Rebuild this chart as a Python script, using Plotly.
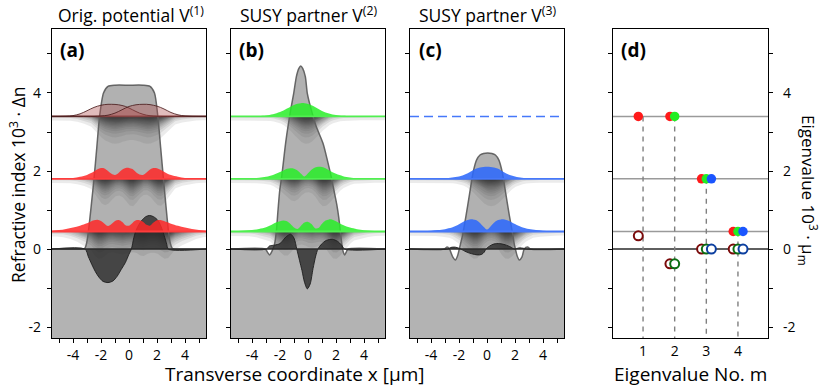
"""Optische SUSY-Partnerpotentiale: Potentiale, Moden und Eigenwerte."""

import numpy as np
import plotly.graph_objects as go

# ---------------------------------------------------------------- data ----
# common x grid of the mode profiles (µm)
X_MODE = [-5.5, -5.0, -4.5, -4.0, -3.5, -3.0, -2.75, -2.5, -2.25, -2.0, -1.75,
          -1.5, -1.25, -1.0, -0.75, -0.5, -0.25, 0.0, 0.25, 0.5, 0.75, 1.0,
          1.25, 1.5, 1.75, 2.0, 2.25, 2.5, 2.75, 3.0, 3.5, 4.0, 4.5, 5.0, 5.5]

LEVELS = [3.4, 1.8, 0.45]  # propagation eigenvalues 10^3 * Δn

# panel (a): mode intensities above their level
MODE_A1_LEFT = [0, 0, 0.005, 0.02, 0.065, 0.145, 0.19, 0.23, 0.262, 0.285, 0.302,
                0.31, 0.31, 0.307, 0.298, 0.28, 0.255, 0.215, 0.17, 0.125, 0.085,
                0.055, 0.032, 0.018, 0.01, 0.005, 0.002, 0, 0, 0, 0, 0, 0, 0, 0]
MODE_A1_RIGHT = [0, 0, 0, 0, 0, 0, 0, 0, 0.005, 0.01, 0.018, 0.032, 0.055, 0.085,
                 0.125, 0.17, 0.215, 0.255, 0.28, 0.298, 0.307, 0.31, 0.31, 0.302,
                 0.285, 0.262, 0.23, 0.19, 0.145, 0.1, 0.04, 0.012, 0.003, 0, 0]
MODE_A2 = [0, 0.003, 0.01, 0.022, 0.05, 0.1, 0.14, 0.19, 0.245, 0.275, 0.265, 0.2,
           0.13, 0.1, 0.15, 0.23, 0.275, 0.28, 0.25, 0.17, 0.11, 0.1, 0.16, 0.24,
           0.275, 0.27, 0.23, 0.18, 0.13, 0.095, 0.05, 0.022, 0.01, 0.003, 0]
MODE_A3 = [0.02, 0.035, 0.065, 0.1, 0.15, 0.21, 0.25, 0.285, 0.3, 0.27, 0.2, 0.14,
           0.19, 0.27, 0.295, 0.25, 0.16, 0.15, 0.22, 0.285, 0.29, 0.25, 0.17, 0.15,
           0.23, 0.29, 0.295, 0.27, 0.235, 0.2, 0.145, 0.1, 0.065, 0.038, 0.02]

# panel (b)
MODE_B1 = [0, 0.001, 0.002, 0.005, 0.012, 0.026, 0.038, 0.055, 0.08, 0.11, 0.15,
           0.2, 0.25, 0.295, 0.325, 0.34, 0.338, 0.32, 0.285, 0.24, 0.19, 0.14,
           0.1, 0.072, 0.05, 0.035, 0.024, 0.016, 0.011, 0.008, 0.003, 0.001, 0, 0, 0]
MODE_B2 = [0, 0.002, 0.006, 0.015, 0.03, 0.055, 0.075, 0.1, 0.135, 0.175, 0.215,
           0.255, 0.27, 0.26, 0.21, 0.13, 0.06, 0.14, 0.23, 0.29, 0.31, 0.3, 0.27,
           0.22, 0.17, 0.13, 0.095, 0.068, 0.048, 0.033, 0.015, 0.006, 0.002, 0, 0]
MODE_B3 = [0.005, 0.012, 0.025, 0.04, 0.065, 0.11, 0.145, 0.19, 0.235, 0.265, 0.28,
           0.26, 0.19, 0.1, 0.065, 0.15, 0.23, 0.245, 0.19, 0.085, 0.09, 0.2, 0.28,
           0.31, 0.3, 0.26, 0.21, 0.165, 0.13, 0.1, 0.058, 0.032, 0.017, 0.008, 0.004]

# panel (c)
MODE_C2 = [0, 0, 0.001, 0.003, 0.007, 0.015, 0.022, 0.032, 0.045, 0.062, 0.088,
           0.125, 0.17, 0.22, 0.265, 0.292, 0.306, 0.31, 0.306, 0.29, 0.262, 0.215,
           0.165, 0.12, 0.083, 0.058, 0.04, 0.028, 0.019, 0.013, 0.006, 0.002, 0.001, 0, 0]
MODE_C3 = [0.002, 0.005, 0.01, 0.02, 0.035, 0.06, 0.08, 0.105, 0.14, 0.185, 0.235,
           0.28, 0.305, 0.31, 0.29, 0.22, 0.12, 0.05, 0.13, 0.225, 0.29, 0.31, 0.305,
           0.28, 0.24, 0.19, 0.145, 0.11, 0.083, 0.062, 0.036, 0.02, 0.01, 0.005, 0.002]

# refractive index profiles V(1), V(2), V(3)
V1_X = [-5.5, -3.3, -3.15, -3.03, -2.9, -2.7, -2.5, -2.3, -2.1, -1.82, -1.5, -1.0,
        0.0, 1.0, 1.5, 1.82, 2.06, 2.26, 2.46, 2.64, 2.82, 2.95, 3.08, 3.2, 5.5]
V1_Y = [0, 0, 0.02, 0.15, 0.45, 1.1, 1.8, 2.6, 3.4, 4.0, 4.17, 4.2, 4.2, 4.2, 4.17,
        4.0, 3.4, 2.6, 1.8, 1.1, 0.45, 0.15, 0.02, 0, 0]
V2_X = [-5.5, -3.05, -2.9, -2.74, -2.58, -2.45, -2.38, -2.26, -2.14, -2.02, -1.88,
        -1.74, -1.6, -1.43, -1.24, -1.02, -0.83, -0.65, -0.52, -0.38, -0.19, -0.05,
        0.24, 0.59, 1.07, 1.38, 1.66, 1.9, 2.05, 2.2, 2.32, 2.42, 2.5, 2.62, 2.74,
        2.86, 5.5]
V2_Y = [0, 0, -0.08, -0.15, -0.06, 0.05, 0.14, 0.46, 1.0, 1.5, 1.85, 2.28, 2.71,
        3.14, 3.56, 3.99, 4.42, 4.63, 4.69, 4.63, 4.42, 3.99, 3.56, 3.14, 2.71, 2.28,
        1.85, 1.42, 1.15, 0.8, 0.42, 0.12, -0.05, -0.15, -0.07, 0, 0]
V3_X = [-5.5, -3.05, -2.85, -2.68, -2.45, -2.26, -2.1, -1.98, -1.9, -1.75, -1.5,
        -1.25, -1.0, -0.75, -0.5, -0.25, 0.05, 0.35, 0.6, 0.85, 1.1, 1.35, 1.6,
        1.85, 1.95, 2.03, 2.15, 2.31, 2.5, 2.66, 2.9, 3.1, 5.5]
V3_Y = [0, 0, 0.05, 0.0, -0.2, -0.28, -0.17, 0.0, 0.12, 0.35, 0.85, 1.4, 1.95, 2.28,
        2.41, 2.45, 2.46, 2.45, 2.41, 2.28, 1.95, 1.4, 0.85, 0.35, 0.12, 0.0, -0.17,
        -0.28, -0.2, 0.0, 0.05, 0, 0]

# dark difference profiles
D1_X = [-5.5, -3.15, -2.9, -2.65, -2.4, -2.15, -1.85, -1.5, -1.15, -0.85, -0.55,
        -0.25, 0.0, 0.17, 0.35, 0.55, 0.9, 1.2, 1.45, 1.75, 2.1, 2.35, 2.55, 2.7, 2.8, 5.5]
D1_Y = [0, 0, -0.2, -0.4, -0.58, -0.72, -0.83, -0.86, -0.82, -0.7, -0.52, -0.34,
        -0.13, 0, 0.3, 0.52, 0.73, 0.83, 0.86, 0.83, 0.72, 0.52, 0.3, 0.12, 0, 0]
D2_X = [-5.5, -2.98, -2.75, -2.4, -2.0, -1.75, -1.55, -1.24, -1.0, -0.8, -0.6,
        -0.43, -0.25, -0.05, 0.15, 0.36, 0.55, 0.71, 0.95, 1.3, 1.74, 2.1, 2.4, 2.62, 5.5]
D2_Y = [0, 0, 0.08, 0.1, 0.14, 0.24, 0.32, 0.38, 0.28, 0.0, -0.3, -0.55, -0.85,
        -1.02, -0.9, -0.5, -0.18, 0, 0.12, 0.22, 0.25, 0.2, 0.1, 0, 0]
D3_X = [-5.5, -2.8, -2.6, -2.3, -2.0, -1.86, -1.5, -1.1, -0.7, -0.4, -0.2, -0.07,
        0.2, 0.5, 0.9, 1.3, 1.7, 1.95, 2.3, 2.6, 2.8, 5.5]
D3_Y = [0, 0, 0.04, 0.05, 0.02, 0, -0.07, -0.12, -0.15, -0.14, -0.08, 0, 0.08,
        0.13, 0.14, 0.11, 0.05, 0, 0.03, 0.02, 0, 0]

# panel (d): eigenvalues (filled) and factorisation constants μ_m (open)
EIG_M_RED, EIG_RED = [1, 2, 3, 4], [3.4, 3.4, 1.8, 0.45]
EIG_M_GREEN, EIG_GREEN = [2, 3, 4], [3.4, 1.8, 0.45]
EIG_M_BLUE, EIG_BLUE = [3, 4], [1.8, 0.45]
MU_M_RED, MU_RED = [1, 2, 3, 4], [0.34, -0.38, 0, 0]
MU_M_GREEN, MU_GREEN = [2, 3, 4], [-0.38, 0, 0]
MU_M_BLUE, MU_BLUE = [3, 4], [0, 0]
DASH_M, DASH_TOP = [1, 2, 3, 4], [3.4, 3.4, 1.8, 0.45]

# -------------------------------------------------------------- styling ---
FONT = "Open Sans, Noto Sans, DejaVu Sans, sans-serif"
Y_RANGE = [-2.28, 5.64]
X_RANGE = [-5.5, 5.5]
M_RANGE = [0.05, 4.95]

RED = "rgba(255,40,40,0.85)"
GREEN = "rgba(40,238,40,0.85)"
BLUE = "rgba(45,105,250,0.88)"
BROWN = "rgba(175,80,80,0.38)"

SHADOW_SHIFT = 0.3
SHADOW_LAYERS = 20
SHADOW_ALPHA = 0.08


def _ax(i):
    return ("x" if i == 1 else f"x{i}"), ("y" if i == 1 else f"y{i}")


def _trace(fig, ax, x, y, **kw):
    xa, ya = _ax(ax)
    kw.setdefault("mode", "lines")
    fig.add_trace(go.Scatter(x=x, y=y, xaxis=xa, yaxis=ya, hoverinfo="skip",
                             showlegend=False, **kw))


def add_shadow(fig, ax, amp, level):
    """Blurred drop shadow below a mode line, built from nested faint layers."""
    a = np.asarray(amp, dtype=float)
    a = np.convolve(np.pad(a, 2, mode="edge"), np.ones(5) / 5, mode="valid")
    n = (a / a.max()) ** 1.6
    strength = 0.13 + 0.87 * n
    tau = 0.1 + 0.13 * n
    xs = np.concatenate([[-7.0], np.asarray(X_MODE) + SHADOW_SHIFT, [7.0]])
    strength = np.concatenate([[strength[0]], strength, [strength[-1]]])
    tau = np.concatenate([[tau[0]], tau, [tau[-1]]])
    for k in range(1, SHADOW_LAYERS + 1):
        t = k / (SHADOW_LAYERS + 1)
        d = np.clip(tau * np.log(strength / t), 0, None)
        if d.max() <= 0:
            continue
        _trace(fig, ax, np.concatenate([xs, xs[::-1]]),
               np.concatenate([level - d, np.full(len(xs), level)]),
               fill="toself", fillcolor=f"rgba(0,0,0,{SHADOW_ALPHA})",
               line=dict(width=0))


def add_potential(fig, ax, vx, vy):
    vy = np.asarray(vy, dtype=float)
    spl = dict(shape="spline", smoothing=0.7, width=0)
    _trace(fig, ax, vx, np.maximum(vy, 0), fill="tozeroy",
           fillcolor="rgba(70,70,70,0.42)", line=spl)
    _trace(fig, ax, vx, np.minimum(vy, 0), fill="tozeroy",
           fillcolor="white", line=spl)
    _trace(fig, ax, vx, vy, line=dict(shape="spline", smoothing=0.7,
                                       color="rgba(95,95,95,0.95)", width=1.5))


def add_dark(fig, ax, dx, dy):
    _trace(fig, ax, dx, dy, fill="tozeroy", fillcolor="rgba(38,38,38,0.78)",
           line=dict(shape="spline", smoothing=0.8, color="rgba(30,30,30,0.9)",
                     width=1))


def add_mode(fig, ax, amp, level, fill, base_color, base_width=1.8,
             outline=None):
    _trace(fig, ax, X_MODE, [level] * len(X_MODE),
           line=dict(color=base_color, width=base_width))
    _trace(fig, ax, X_MODE, level + np.asarray(amp), fill="tonexty",
           fillcolor=fill,
           line=dict(shape="spline", color=outline or fill,
                     width=1 if outline else 0))


def add_zero(fig, ax, xr):
    _trace(fig, ax, xr, [0, 0], line=dict(color="#2a2a2a", width=1.4))


fig = go.Figure()

# panel backgrounds below zero
for i in (1, 2, 3):
    xa, ya = _ax(i)
    fig.add_shape(type="rect", xref=xa, yref=ya, x0=X_RANGE[0], x1=X_RANGE[1],
                  y0=Y_RANGE[0], y1=0, fillcolor="#b3b3b3", line_width=0,
                  layer="below")

# (a) original potential
top_a = np.maximum(MODE_A1_LEFT, MODE_A1_RIGHT)
for amp, lev in zip([top_a, MODE_A2, MODE_A3], LEVELS):
    add_shadow(fig, 1, amp, lev)
add_potential(fig, 1, V1_X, V1_Y)
add_dark(fig, 1, D1_X, D1_Y)
add_mode(fig, 1, MODE_A1_LEFT, LEVELS[0], BROWN, "rgb(125,65,65)",
         outline="rgba(75,30,30,0.85)")
add_mode(fig, 1, MODE_A1_RIGHT, LEVELS[0], BROWN, "rgb(125,65,65)",
         base_width=0, outline="rgba(75,30,30,0.85)")
add_mode(fig, 1, MODE_A2, LEVELS[1], RED, "rgb(255,60,60)")
add_mode(fig, 1, MODE_A3, LEVELS[2], RED, "rgb(255,60,60)")
add_zero(fig, 1, X_RANGE)

# (b) first SUSY partner
for amp, lev in zip([MODE_B1, MODE_B2, MODE_B3], LEVELS):
    add_shadow(fig, 2, amp, lev)
add_potential(fig, 2, V2_X, V2_Y)
add_dark(fig, 2, D2_X, D2_Y)
for amp, lev in zip([MODE_B1, MODE_B2, MODE_B3], LEVELS):
    add_mode(fig, 2, amp, lev, GREEN, "rgb(80,240,80)")
add_zero(fig, 2, X_RANGE)

# (c) second SUSY partner
for amp, lev in zip([MODE_C2, MODE_C3], LEVELS[1:]):
    add_shadow(fig, 3, amp, lev)
add_potential(fig, 3, V3_X, V3_Y)
add_dark(fig, 3, D3_X, D3_Y)
_trace(fig, 3, X_RANGE, [LEVELS[0]] * 2,
       line=dict(color="rgb(70,120,250)", width=1.5, dash="9px,5px"))
for amp, lev in zip([MODE_C2, MODE_C3], LEVELS[1:]):
    add_mode(fig, 3, amp, lev, BLUE, "rgb(70,120,250)")
add_zero(fig, 3, X_RANGE)

# (d) eigenvalue diagram
for lev in LEVELS:
    _trace(fig, 4, M_RANGE, [lev, lev], line=dict(color="#9a9a9a", width=1.5))
_trace(fig, 4, M_RANGE, [0, 0], line=dict(color="#2a2a2a", width=1.5))
for m, top in zip(DASH_M, DASH_TOP):
    _trace(fig, 4, [m, m], [top, Y_RANGE[0]],
           line=dict(color="#808080", width=1.4, dash="5px,5px"))

OFFSETS = {"red": -0.15, "green": 0.0, "blue": 0.16}
for name, ms, ys, col in [("red", EIG_M_RED, EIG_RED, "#ff1a1a"),
                          ("green", EIG_M_GREEN, EIG_GREEN, "#22ee22"),
                          ("blue", EIG_M_BLUE, EIG_BLUE, "#1a55ff")]:
    _trace(fig, 4, [m + OFFSETS[name] for m in ms], ys, mode="markers",
           marker=dict(size=9.5, color=col, line=dict(width=0)))
for name, ms, ys, col in [("red", MU_M_RED, MU_RED, "#7a0a0a"),
                          ("green", MU_M_GREEN, MU_GREEN, "#0c6e12"),
                          ("blue", MU_M_BLUE, MU_BLUE, "#0c3fa0")]:
    _trace(fig, 4, [m + OFFSETS[name] for m in ms], ys, mode="markers",
           marker=dict(size=9, color="white", line=dict(width=2, color=col)))

# --------------------------------------------------------------- layout ---
W, H = 830, 386
L, R, T, B = 52, 62, 29, 48
PW, PH = W - L - R, H - T - B


def px(x):
    return (x - L) / PW


def py(y):
    return (H - B - y) / PH


tick_font = dict(family=FONT, size=14, color="black")
frame = dict(showline=True, linecolor="black", linewidth=1.2, mirror=True,
             showgrid=False, zeroline=False, ticks="outside", ticklen=4,
             tickwidth=1, tickcolor="black", tickfont=tick_font)
minor = dict(ticks="outside", tick0=0, dtick=1, ticklen=4, tickwidth=1,
             tickcolor="black")

x_ticks = dict(tickvals=[-4, -2, 0, 2, 4], ticktext=["-4", "-2", "0", "2", "4"],
               minor=minor)
y_ticks = dict(tickvals=[-2, 0, 2, 4], ticktext=["-2", "0", "2", "4"],
               minor=minor)

domains = [(52, 206), (231, 385), (410, 564), (613, 768)]
layout = {}
for i, (a0, a1) in enumerate(domains, start=1):
    key = "" if i == 1 else str(i)
    dom = [px(a0), px(a1)]
    if i < 4:
        layout[f"xaxis{key}"] = dict(frame, domain=dom, anchor=f"y{key}",
                                     range=X_RANGE, **x_ticks)
        layout[f"yaxis{key}"] = dict(frame, domain=[0, 1], anchor=f"x{key}",
                                     range=Y_RANGE, showticklabels=(i == 1),
                                     ticklabelstandoff=3, **y_ticks)
    else:
        layout[f"xaxis{key}"] = dict(frame, domain=dom, anchor=f"y{key}",
                                     range=M_RANGE, tickvals=[1, 2, 3, 4],
                                     ticks="")
        layout[f"yaxis{key}"] = dict(frame, domain=[0, 1], anchor=f"x{key}",
                                     range=Y_RANGE, side="right",
                                     mirror="ticks", ticklabelstandoff=7,
                                     **y_ticks)

annotations = []


def text(s, x, y, size=18, angle=0, xanchor="center", bold=False):
    annotations.append(dict(
        text=f"<b>{s}</b>" if bold else s, x=px(x), y=py(y), xref="paper",
        yref="paper", showarrow=False, textangle=angle, xanchor=xanchor,
        yanchor="middle", font=dict(family=FONT, size=size, color="black")))


text("Orig. potential V<sup>(1)</sup>", 131, 14, size=17.5)
text("SUSY partner V<sup>(2)</sup>", 308, 14, size=17.5)
text("SUSY partner V<sup>(3)</sup>", 487.5, 14, size=17.5)
for lab, x0 in [("(a)", 58), ("(b)", 237), ("(c)", 417), ("(d)", 619)]:
    text(lab, x0, 50, size=19, xanchor="left", bold=True)
text("Refractive index 10<sup>3</sup> · Δn", 17, 185, size=17.5, angle=-90)
text("Eigenvalue 10<sup>3</sup> · μ<sub>m</sub>", 809, 190, size=17, angle=90)
text("Transverse coordinate x [µm]", 294, 374, size=19)
text("Eigenvalue No. m", 690, 374, size=19)

fig.update_layout(width=W, height=H, margin=dict(l=L, r=R, t=T, b=B),
                  paper_bgcolor="white", plot_bgcolor="white", showlegend=False,
                  font=dict(family=FONT, size=14, color="black"),
                  annotations=annotations, **layout)

fig.write_html("out.html", config={"displayModeBar": False},
               post_script="document.body.style.margin = '0';")
